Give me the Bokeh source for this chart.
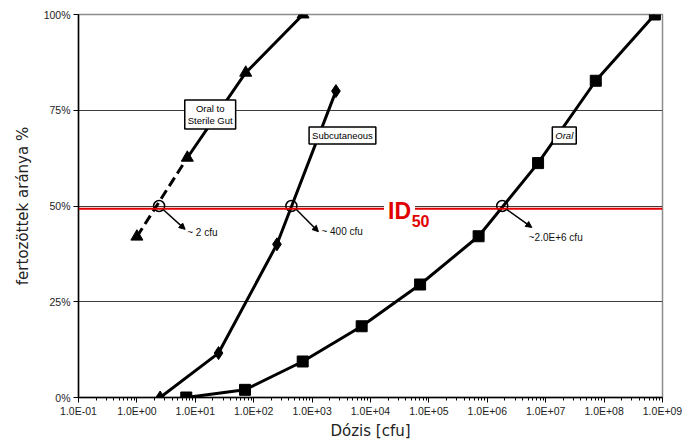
from bokeh.plotting import figure
from bokeh.models import (FixedTicker, CustomJSTickFormatter, Span, Label, Arrow,
                          NormalHead)
from bokeh.embed import file_html
from bokeh.resources import INLINE

# ---- data ----
gut_x = [1.0, 7.3, 73, 700]            # Oral to Sterile Gut (triangles)
gut_y = [42.0, 62.6, 84.8, 100.0]
sub_x = [2.5, 25, 250, 2560]           # Subcutaneous (diamonds)
sub_y = [0.0, 11.6, 40.0, 80.0]
oral_x = [7.0, 71, 690, 7060, 70700, 7.1e5, 7.4e6, 7.2e7, 7.4e8]   # Oral (squares)
oral_y = [0.0, 2.0, 9.4, 18.6, 29.5, 42.1, 61.2, 82.7, 100.0]
id50_x = [2.4, 442, 1.8e6]              # ID50 estimates (open circles)
id50_y = [50, 50, 50]
id50_texts = ["~ 2 cfu", "~ 400 cfu", "~2.0E+6 cfu"]
id50_level = 49.3

x_tick_exps = list(range(-1, 10))
x_tick_labels = ["1.0E-01", "1.0E+00", "1.0E+01", "1.0E+02", "1.0E+03", "1.0E+04",
                 "1.0E+05", "1.0E+06", "1.0E+07", "1.0E+08", "1.0E+09"]
y_ticks = [0, 25, 50, 75, 100]
y_tick_labels = ["0%", "25%", "50%", "75%", "100%"]

FONT = "Liberation Sans"

p = figure(width=689, height=442, x_axis_type="log", x_range=(0.1, 1e9),
           y_range=(0, 100), output_backend="svg", toolbar_location=None,
           min_border_left=78, min_border_right=27, min_border_top=14,
           min_border_bottom=45, background_fill_color="white",
           border_fill_color="white")
p.outline_line_color = "#8c8c8c"
p.outline_line_width = 1.5

# ticks
major = [10.0 ** e for e in x_tick_exps]
minor = [m * 10.0 ** e for e in x_tick_exps[:-1] for m in range(2, 10)]
p.xaxis.ticker = FixedTicker(ticks=major, minor_ticks=minor)
p.xaxis.formatter = CustomJSTickFormatter(args=dict(xlabels=x_tick_labels, e0=x_tick_exps[0]),
    code="const e = Math.round(Math.log10(tick)); return xlabels[e - e0];")
p.yaxis.ticker = FixedTicker(ticks=y_ticks)
p.yaxis.formatter = CustomJSTickFormatter(args=dict(ylabels=y_tick_labels, yvals=y_ticks),
    code="return ylabels[yvals.indexOf(tick)];")

for ax in (p.xaxis, p.yaxis):
    ax.axis_line_color = "black"
    ax.axis_line_width = 1.5
    ax.major_tick_line_color = "black"
    ax.major_tick_out = 5
    ax.major_tick_in = 0
    ax.minor_tick_line_color = "black"
    ax.minor_tick_out = 3
    ax.minor_tick_in = 0
    ax.major_label_text_font = FONT
    ax.major_label_text_font_size = "10.5px"
    ax.major_label_text_color = "#222222"
    ax.axis_label_text_font = "DejaVu Sans"
    ax.axis_label_text_font_size = "15px"
    ax.axis_label_text_font_style = "normal"
    ax.axis_label_text_color = "#222222"

p.xaxis.axis_label = "Dózis [cfu]"
p.xaxis.major_label_standoff = 2
p.xaxis.axis_label_standoff = 2
p.yaxis.axis_label = "fertozöttek aránya %"
p.yaxis.major_label_standoff = 3
p.yaxis.axis_label_standoff = 9

p.xgrid.visible = False
p.ygrid.ticker = FixedTicker(ticks=y_ticks)
p.ygrid.grid_line_color = "#3c3c3c"
p.ygrid.grid_line_width = 1

# red ID50 line
p.add_layout(Span(location=id50_level, dimension="width", line_color="#e00000",
                  line_width=2))

LW = 3
# Oral to Sterile Gut
p.line(gut_x[:2], gut_y[:2], line_color="black", line_width=LW, line_dash="10 5")
p.line(gut_x[1:], gut_y[1:], line_color="black", line_width=LW)
p.scatter(gut_x, gut_y, marker="triangle", size=12, color="black")
# Subcutaneous
p.line(sub_x, sub_y, line_color="black", line_width=LW)
p.scatter(sub_x, sub_y, marker="diamond", size=13, color="black")
# Oral
p.line(oral_x, oral_y, line_color="black", line_width=LW)
p.scatter(oral_x, oral_y, marker="square", size=11, color="black")

# ID50 circles
p.scatter(id50_x, id50_y, marker="circle", size=11, fill_color=None,
          line_color="black", line_width=1.5)

# arrows + texts
arrow_start = [(2.81, 49.1), (538, 49.1), (2.15e6, 49.1)]
arrow_end = [(6.7, 43.9), (1282, 43.3), (5.78e6, 44.4)]
text_pos = [(7.26, 43.1), (1443, 43.3), (5.13e6, 41.8)]
for (sx, sy), (ex, ey), (tx, ty), t in zip(arrow_start, arrow_end, text_pos, id50_texts):
    p.add_layout(Arrow(x_start=sx, y_start=sy, x_end=ex, y_end=ey, line_width=1.5,
                       line_color="black",
                       end=NormalHead(size=6, fill_color="black", line_color="black")))
    p.add_layout(Label(x=tx, y=ty, text=t, text_font=FONT, text_font_size="10px",
                       text_align="left", text_baseline="middle", text_color="#111111"))

# series name boxes
def box(x, y, t, style="normal"):
    p.add_layout(Label(x=x, y=y, text=t, text_font=FONT, text_font_size="9.5px",
                       text_font_style=style, text_align="center",
                       text_baseline="middle", text_color="black",
                       background_fill_color="white", border_line_color="black",
                       border_line_width=1.5, padding=3, text_line_height=1.1))

box(18.0, 73.9, "Oral to\nSterile Gut")
box(3310, 68.4, "Subcutaneous")
box(2.08e7, 68.4, "Oral", "italic")

# ID50 label
p.add_layout(Label(x=31400, y=48.6, text="ID", text_font=FONT, text_font_size="23px",
                   text_font_style="bold", text_color="#e00000", text_align="center",
                   text_baseline="middle", background_fill_color="white", padding=4))
p.add_layout(Label(x=71900, y=46.0, text="50", text_font=FONT, text_font_size="16px",
                   text_font_style="bold", text_color="#e00000", text_align="center",
                   text_baseline="middle", background_fill_color="white", padding=1))

open("out.html", "w").write(file_html(p, INLINE))
